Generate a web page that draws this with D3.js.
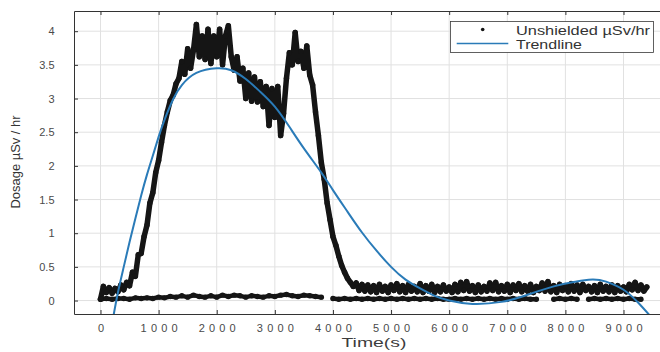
<!DOCTYPE html>
<html>
<head>
<meta charset="utf-8">
<script src="https://cdn.jsdelivr.net/npm/d3@7"></script>
<style>
  body { margin: 0; background: #fff; }
  svg { display: block; font-family: 'Liberation Sans', Arial, sans-serif; }
</style>
</head>
<body>
<svg id="chart" width="660" height="352"></svg>
<script>
// unshielded readings, one every 50 s from t = 0
const doseStep = 50;
const doseHigh = [
  0.02, 0.21, 0.12, 0.19, 0.11, 0.18, 0.13, 0.23, 0.16, 0.27,
  0.22, 0.42, 0.36, 0.68, 0.70, 0.95, 1.12, 1.45, 1.60, 1.90,
  2.08, 2.35, 2.60, 2.80, 2.97, 3.05, 3.22, 3.30, 3.55, 3.36,
  3.74, 3.45, 3.72, 4.10, 3.62, 3.93, 3.58, 4.03, 3.52, 3.93,
  3.62, 4.03, 3.50, 3.93, 4.08, 3.62, 3.42, 3.62, 3.26, 3.45,
  3.00, 3.38, 2.96, 3.32, 2.95, 3.25, 2.88, 3.18, 2.60, 3.15,
  2.72, 3.18, 2.45, 2.78, 3.30, 3.68, 3.50, 3.98, 3.55, 3.70,
  3.45, 3.78, 3.35, 3.20, 2.80, 2.45, 2.05, 1.80, 1.45, 1.20,
  0.95, 0.82, 0.66, 0.52, 0.42, 0.33, 0.27, 0.21, 0.26, 0.15,
  0.24, 0.14, 0.23, 0.13, 0.22, 0.12, 0.24, 0.14, 0.21, 0.12,
  0.23, 0.15, 0.25, 0.13, 0.22, 0.12, 0.24, 0.14, 0.21, 0.13,
  0.25, 0.12, 0.22, 0.14, 0.24, 0.12, 0.21, 0.13, 0.23, 0.14,
  0.20, 0.12, 0.24, 0.13, 0.27, 0.15, 0.28, 0.14, 0.22, 0.12,
  0.23, 0.13, 0.21, 0.14, 0.26, 0.15, 0.27, 0.13, 0.22, 0.14,
  0.24, 0.12, 0.23, 0.15, 0.25, 0.13, 0.22, 0.14, 0.24, 0.12,
  0.21, 0.15, 0.26, 0.14, 0.28, 0.13, 0.22, 0.12, 0.24, 0.15,
  0.22, 0.13, 0.25, 0.14, 0.23, 0.12, 0.24, 0.15, 0.21, 0.13,
  0.22, 0.12, 0.24, 0.14, 0.21, 0.13, 0.23, 0.12, 0.22, 0.14,
  0.20, 0.13, 0.24, 0.16, 0.27, 0.15, 0.23, 0.14, 0.20
];

// background run, one every 100 s (null = no reading)
const baseStep = 100;
const doseBase = [
  0.02, 0.03, 0.02, 0.03, 0.03, 0.02, 0.04, 0.03, 0.04, 0.03,
  0.05, 0.04, 0.06, 0.05, 0.07, 0.05, 0.08, 0.06, 0.05, 0.07,
  0.05, 0.08, 0.06, 0.08, 0.07, 0.05, 0.07, 0.06, 0.05, 0.07,
  0.06, 0.08, 0.09, 0.07, 0.06, 0.08, 0.07, 0.06, 0.05, null,
  0.03, 0.02, 0.03, 0.02, 0.03, 0.02, 0.03, 0.02, 0.03, 0.02,
  0.03, 0.02, 0.03, 0.02, 0.03, 0.02, 0.03, 0.02, 0.03, 0.02,
  0.02, 0.03, 0.02, 0.03, 0.02, 0.03, 0.02, 0.03, 0.02, 0.03,
  0.02, 0.03, 0.02, 0.03, 0.02, 0.02, null, null, 0.02, 0.03,
  0.02, 0.03, 0.02, null, 0.02, 0.03, 0.02, 0.03, 0.02, 0.03,
  0.02, 0.03, 0.02, 0.02
];

const trendTimes = [225, 300, 400, 500, 600, 700, 800, 900, 1000, 1100, 1250, 1400, 1650,
  2000, 2250, 2500, 2750, 3000, 3250, 3500, 3800, 4000, 4250, 4500, 4750, 5000, 5250,
  5500, 5750, 6000, 6400, 6900, 7300, 7800, 8400, 8700, 9000, 9250, 9450];
const trendValues = [-0.22, 0.12, 0.50, 0.87, 1.22, 1.56, 1.87, 2.15, 2.43, 2.68, 2.99, 3.20, 3.38,
  3.45, 3.42, 3.29, 3.10, 2.88, 2.58, 2.26, 1.90, 1.64, 1.32, 1.01, 0.74, 0.50, 0.31,
  0.18, 0.07, 0.00, -0.05, -0.02, 0.07, 0.21, 0.31, 0.28, 0.16, -0.03, -0.22];

const xTicks = [0, 1000, 2000, 3000, 4000, 5000, 6000, 7000, 8000, 9000];
const yTicks = [0, 0.5, 1, 1.5, 2, 2.5, 3, 3.5, 4];
const legendLabels = ['Unshielded \u00b5Sv/hr', 'Trendline'];

const plot = { left: 74, top: 11, right: 660, bottom: 314 };
const axisColor = '#333';
const labelColor = '#4a4a4a';
const trendColor = '#2a7bb8';
const dotColor = '#151515';

const svg = d3.select('#chart');

const x = d3.scaleLinear().domain([-456, 9628]).range([plot.left, plot.right]);
const y = d3.scaleLinear().domain([-0.2, 4.3]).range([plot.bottom, plot.top]);

svg.append('defs').append('clipPath')
  .attr('id', 'plot-clip')
  .append('rect')
  .attr('x', plot.left)
  .attr('y', plot.top)
  .attr('width', plot.right - plot.left)
  .attr('height', plot.bottom - plot.top);

// grid
const grid = svg.append('g').attr('class', 'grid');
grid.selectAll('line.gx')
  .data(xTicks)
  .join('line')
  .attr('class', 'gx')
  .attr('x1', d => x(d)).attr('x2', d => x(d))
  .attr('y1', plot.top).attr('y2', plot.bottom)
  .attr('stroke', '#e1e1e1');
grid.selectAll('line.gy')
  .data(yTicks)
  .join('line')
  .attr('class', 'gy')
  .attr('x1', plot.left).attr('x2', plot.right)
  .attr('y1', d => y(d)).attr('y2', d => y(d))
  .attr('stroke', '#e1e1e1');

// data
const highPoints = doseHigh.map((v, i) => ({ t: i * doseStep, v }));
const basePoints = doseBase.map((v, i) => ({ t: i * baseStep, v }));

const dataLine = d3.line()
  .defined(d => d.v !== null)
  .x(d => x(d.t))
  .y(d => y(d.v));

const marks = svg.append('g').attr('clip-path', 'url(#plot-clip)');

marks.append('path')
  .datum(basePoints)
  .attr('fill', 'none')
  .attr('stroke', dotColor)
  .attr('stroke-width', 4.5)
  .attr('stroke-linejoin', 'round')
  .attr('stroke-linecap', 'round')
  .attr('d', dataLine);

marks.append('path')
  .datum(highPoints)
  .attr('fill', 'none')
  .attr('stroke', dotColor)
  .attr('stroke-width', 5.5)
  .attr('stroke-linejoin', 'round')
  .attr('stroke-linecap', 'round')
  .attr('d', dataLine);

marks.selectAll('circle.pt')
  .data(highPoints.concat(basePoints.filter(d => d.v !== null)))
  .join('circle')
  .attr('class', 'pt')
  .attr('cx', d => x(d.t))
  .attr('cy', d => y(d.v))
  .attr('r', 2.7)
  .attr('fill', dotColor);

const trendLine = d3.line()
  .curve(d3.curveNatural)
  .x((d, i) => x(trendTimes[i]))
  .y(d => y(d));

marks.append('path')
  .datum(trendValues)
  .attr('fill', 'none')
  .attr('stroke', trendColor)
  .attr('stroke-width', 2)
  .attr('d', trendLine);

// axes
function styleAxis(g) {
  g.select('.domain').attr('stroke', axisColor);
  g.selectAll('.tick line').attr('stroke', axisColor);
  g.selectAll('.tick text')
    .attr('fill', labelColor)
    .attr('font-size', 11)
    .attr('font-family', "'Liberation Sans', Arial, sans-serif");
}

svg.append('g')
  .attr('transform', `translate(0,${plot.bottom})`)
  .call(d3.axisBottom(x).tickValues(xTicks).tickSizeInner(-4).tickSizeOuter(0).tickPadding(10)
    .tickFormat(d3.format('d')))
  .call(styleAxis)
  .call(g => g.selectAll('.tick text')
    .attr('textLength', d => d >= 1000 ? 37 : null)
    .attr('lengthAdjust', 'spacing'));

svg.append('g')
  .attr('transform', `translate(0,${plot.top})`)
  .call(d3.axisTop(x).tickValues(xTicks).tickSizeInner(-4).tickSizeOuter(0).tickFormat(''))
  .call(styleAxis);

svg.append('g')
  .attr('transform', `translate(${plot.left},0)`)
  .call(d3.axisLeft(y).tickValues(yTicks).tickSizeInner(-4).tickSizeOuter(0).tickPadding(19.5)
    .tickFormat(d3.format('~g')))
  .call(styleAxis);

// axis titles
svg.append('text')
  .attr('x', 374)
  .attr('y', 347)
  .attr('text-anchor', 'middle')
  .attr('font-size', 13)
  .attr('fill', '#3c3c3c')
  .attr('textLength', 65)
  .attr('lengthAdjust', 'spacingAndGlyphs')
  .text('Time(s)');

svg.append('text')
  .attr('transform', 'translate(19.5,162) rotate(-90)')
  .attr('text-anchor', 'middle')
  .attr('font-size', 12.5)
  .attr('fill', '#333')
  .attr('textLength', 93)
  .attr('lengthAdjust', 'spacingAndGlyphs')
  .text('Dosage \u00b5Sv / hr');

// legend
const legend = svg.append('g').attr('class', 'legend');
legend.append('rect')
  .attr('x', 450.5).attr('y', 21.5)
  .attr('width', 203).attr('height', 31)
  .attr('fill', '#fff')
  .attr('stroke', '#3a3a3a')
  .attr('stroke-width', 0.8);
legend.append('circle')
  .attr('cx', 482.7).attr('cy', 29.5)
  .attr('r', 1.8)
  .attr('fill', dotColor);
legend.append('line')
  .attr('x1', 456.7).attr('x2', 508.3)
  .attr('y1', 43.5).attr('y2', 43.5)
  .attr('stroke', trendColor)
  .attr('stroke-width', 1.6);
legend.selectAll('text')
  .data(legendLabels)
  .join('text')
  .attr('x', 516)
  .attr('y', (d, i) => i === 0 ? 35 : 49)
  .attr('font-size', 12)
  .attr('fill', '#333')
  .attr('textLength', (d, i) => i === 0 ? 134 : 66)
  .attr('lengthAdjust', 'spacingAndGlyphs')
  .text(d => d);
</script>
</body>
</html>
